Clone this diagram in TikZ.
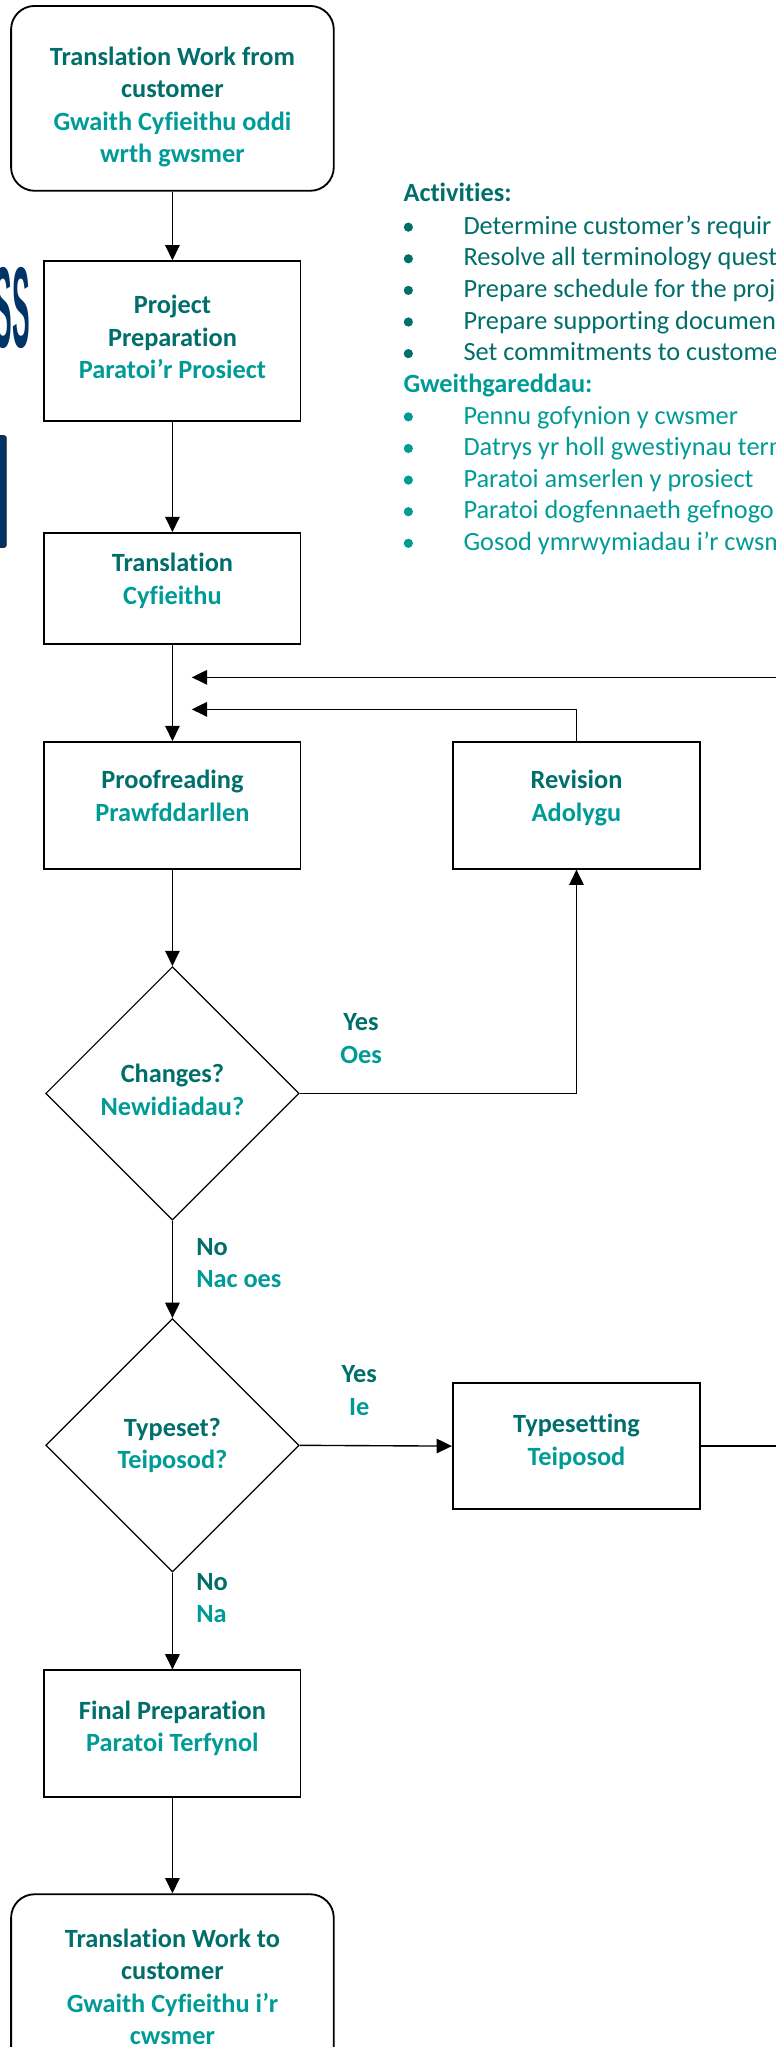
\documentclass[tikz,border=0pt]{standalone}
\usepackage{fontspec}
\setmainfont{Carlito}[Ligatures=NoCommon]
\newfontfamily\bannerfont{Liberation Sans}
\usepackage{graphicx}
\usetikzlibrary{shapes.geometric,arrows.meta}
\definecolor{darkteal}{RGB}{0,110,106}
\definecolor{lightteal}{RGB}{0,155,150}
\definecolor{navy}{RGB}{0,51,102}
\newcommand{\bodysize}{\fontsize{17.2}{21.2}\selectfont}
\newcommand{\entext}[1]{\textcolor{darkteal}{#1}}
\newcommand{\cytext}[1]{\textcolor{lightteal}{#1}}
\tikzset{
  box/.style={draw,line width=1.2pt,minimum width=5.88cm,align=center,inner sep=2pt,font=\bodysize\bfseries},
  endbox/.style={box,rounded corners=0.54cm,minimum width=7.41cm,minimum height=4.245cm},
  choice/.style={draw,diamond,line width=0.8pt,minimum width=5.82cm,minimum height=5.82cm,inner sep=0pt,align=center,font=\bodysize\bfseries},
  lbl/.style={align=center,inner sep=0pt,font=\bodysize\bfseries},
  item/.style={anchor=base west,inner sep=0pt,font=\bodysize},
  arr/.style={line width=0.9pt,-{Triangle[length=10pt,width=9.5pt]}}
}
\begin{document}
\begin{tikzpicture}[x=0.03cm,y=-0.03cm]
\useasboundingbox (0,0) rectangle (594,1567);
\clip (0,0) rectangle (594,1567);

% title, cut off at the left edge
\node[anchor=base east,inner sep=0pt,text=navy] (banner) at (23,266)
  {\bannerfont\bfseries\fontsize{75}{75}\selectfont\scalebox{0.23}[1]{SS}};
\filldraw[fill=navy,draw=black!85,line width=0.6pt,rounded corners=1.5pt] (-6,333.5) rectangle (4.8,419);

% flow
\node[endbox,text height=84pt,text depth=0pt] (start) at (132,75.3) {\entext{Translation Work from}\\\entext{customer}\\\cytext{Gwaith Cyfieithu oddi}\\\cytext{wrth gwsmer}};
\node[box,minimum height=3.66cm,text depth=5pt] (prep) at (132,261) {\entext{Project}\\\entext{Preparation}\\\cytext{Paratoi’r Prosiect}};
\node[box,minimum height=2.55cm,text depth=12.5pt] (trans) at (132,450.5) {\entext{Translation}\\\cytext{Cyfieithu}};
\node[box,minimum height=2.91cm,text depth=12.5pt] (proof) at (132,616.5) {\entext{Proofreading}\\\cytext{Prawfddarllen}};
\node[box,minimum width=5.68cm,minimum height=2.91cm,text depth=12.5pt] (rev) at (441.3,616.5) {\entext{Revision}\\\cytext{Adolygu}};
\node[choice,text depth=5pt] (chg) at (132,837) {\entext{Changes?}\\\cytext{Newidiadau?}};
\node[choice] (tys) at (132,1106.4) {\entext{Typeset?}\\\cytext{Teiposod?}};
\node[box,minimum width=5.68cm,minimum height=2.89cm,text depth=8.5pt] (tset) at (441.3,1107) {\entext{Typesetting}\\\cytext{Teiposod}};
\node[box,minimum height=2.91cm,text depth=10pt] (final) at (132,1327.2) {\entext{Final Preparation}\\\cytext{Paratoi Terfynol}};
\node[endbox] (finish) at (132,1520.8) {\entext{Translation Work to}\\\entext{customer}\\\cytext{Gwaith Cyfieithu i’r}\\\cytext{cwsmer}};

\node[lbl] (yes1) at (276.4,795) {\entext{Yes}\\\cytext{Oes}};
\node[lbl] (yes2) at (275,1064.5) {\entext{Yes}\\\cytext{Ie}};
\node[lbl,anchor=west,align=left] (no1) at (150,966.7) {\entext{No}\\\cytext{Nac oes}};
\node[lbl,anchor=west,align=left] (no2) at (150,1223.5) {\entext{No}\\\cytext{Na}};

\coordinate (fb1) at (146.8,518.5);
\coordinate (fb2) at (146.8,543);
\coordinate (turn) at (640,1107);

\draw[arr] (start) -- (prep);
\draw[arr] (prep) -- (trans);
\draw[arr] (trans) -- (proof);
\draw[arr] (proof) -- (chg);
\draw[arr] (chg) -- (tys);
\draw[arr] (tys) -- (final);
\draw[arr] (final) -- (finish);
\draw[arr] (chg.east) -| (rev.south);
\draw[arr] (rev.north) |- (fb2);
\draw[arr] (tys.east) -- (tset.west);
\draw[arr] (tset.east) -- (turn) |- (fb1);

% activities
\node[item,font=\bodysize\bfseries,text=darkteal] (acts) at (308.7,154) {Activities:};
\foreach \t [count=\i] in {Determine customer’s requir,Resolve all terminology quest,Prepare schedule for the proj,Prepare supporting document,Set commitments to custome}{
  \node[item,text=darkteal] (en\i) at (354.6,{155.2+24.2*\i}) {\t};
  \fill[darkteal] (312.6,{149.7+24.2*\i}) circle (3pt);
}
\node[item,font=\bodysize\bfseries,text=lightteal] (gwaith) at (308.7,{155.2+24.2*6}) {Gweithgareddau:};
\foreach \t [count=\i from 7] in {Pennu gofynion y cwsmer,Datrys yr holl gwestiynau term,Paratoi amserlen y prosiect,Paratoi dogfennaeth gefnogo,Gosod ymrwymiadau i’r cwsm}{
  \node[item,text=lightteal] (cy\i) at (354.6,{155.2+24.2*\i}) {\t};
  \fill[lightteal] (312.6,{149.7+24.2*\i}) circle (3pt);
}
\end{tikzpicture}
\end{document}
